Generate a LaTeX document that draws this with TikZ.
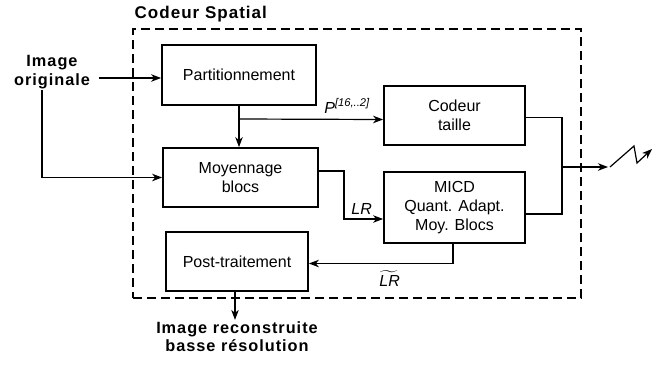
\documentclass[tikz,border=0pt]{standalone}
\usepackage{amsmath}
\usepackage{fontspec}
\setmainfont{Liberation Sans}
\newfontfamily\spacedfont[LetterSpace=6]{Liberation Sans}
\usepackage{tikz}
\usetikzlibrary{positioning,arrows.meta}

\begin{document}
\begin{tikzpicture}[x=1pt,y=-1pt,>={Stealth[length=10pt,width=7.5pt,inset=3pt]},line width=1.2pt,
        font=\fontsize{16}{19}\selectfont]
        \tikzstyle{block}=[draw,line width=1.8pt,align=center,inner sep=0pt,minimum width=141pt,minimum height=59pt]
        \tikzstyle{io}=[font=\fontsize{16.3}{18.5}\selectfont\spacedfont\bfseries,align=center,inner sep=1pt]
        \tikzstyle{sig}=[font=\fontsize{16}{19}\selectfont\itshape,inner sep=1pt]
        \useasboundingbox (0,0) rectangle (665,378);
        % codeur spatial
        \node[draw,dash pattern=on 9pt off 5pt,line width=1.8pt,minimum width=448pt,minimum height=269pt] (frame) at (357,163.5) {};
        \node[io,anchor=south west,font=\fontsize{17}{19}\selectfont\spacedfont\bfseries] (title) at ([xshift=1pt,yshift=4pt]frame.north west) {Codeur Spatial};
        \node[block,minimum width=154pt,minimum height=60pt] (part) at (239,75) {Partitionnement};
        \node[block,minimum width=155pt] (moy) at (240.5,177.5) {Moyennage\\blocs};
        \node[block,minimum width=142pt] (post) at (237,261.5) {Post-traitement};
        \node[block] (codt) at (454.5,115.5) {Codeur\\taille};
        \node[block,minimum height=71pt] (micd) at (454.5,207.5) {MICD\\Quant. Adapt.\\Moy. Blocs};
        % entrees / sorties
        \node[io] (orig) at (52,72) {Image\\originale};
        \node[io,below=28pt of post] (recon) {Image reconstruite\\basse r\'esolution};
        \coordinate (junc) at (562,167);
        \coordinate (out) at (608,167);

        \draw[->] (orig.east |- 0,78) ++(8,0) -- (part.west |- 0,78);
        \draw[->] ([xshift=-10pt]orig.south) |- (moy.west);
        \draw[->] (part.south) -- (part.south |- moy.north);
        \draw[->] (part.south |- 0,119) -- ([yshift=-4pt]codt.west)
            node[sig,pos=0.75,above=4pt] (plab) {$\textit{P}^{\textit{[16,..2]}}$};
        \draw[->] ([yshift=6.5pt]moy.east) -| (344,219) -- ([yshift=-11.5pt]micd.west)
            node[sig,pos=0.45,above=3pt] (lr) {LR};
        \draw[->] ([xshift=-1.5pt]micd.south) |- ([yshift=-2pt]post.east)
            node[sig,pos=0.72,below=5pt] (lrt) {$\widetilde{\textit{LR}}$};
        \draw ([yshift=-2pt]codt.east) -| (junc);
        \draw ([yshift=-6.5pt]micd.east) -| (junc);
        \draw[->] (junc) -- (out);
        \draw[->] (out) ++(2,0) -- ++(24,-21) -- ++(3,17) -- ++(15,-14);
        \draw[->] ([xshift=-2pt]post.south) -- ([xshift=-2pt]post.south |- recon.north);
\end{tikzpicture}
\end{document}
